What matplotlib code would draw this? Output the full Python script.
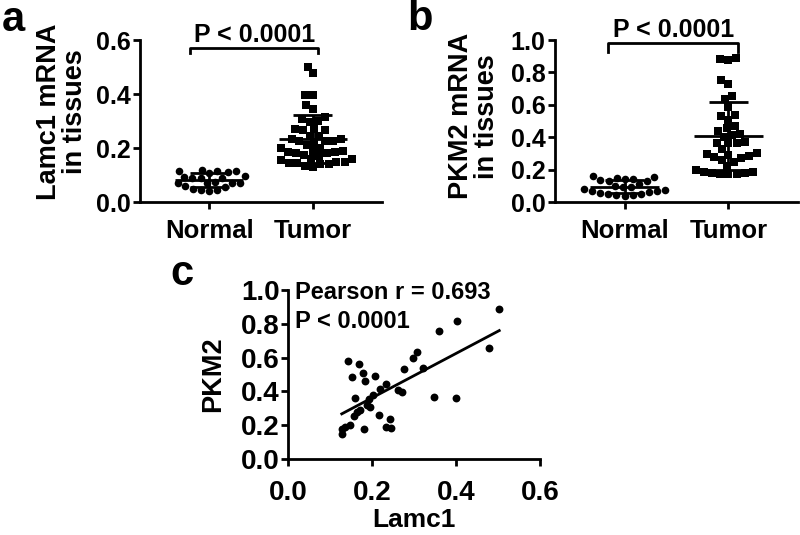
import numpy as np
import matplotlib
matplotlib.use("Agg")
import matplotlib.pyplot as plt
from matplotlib.ticker import FormatStrFormatter

plt.rcParams['font.family'] = ['Liberation Sans', 'DejaVu Sans']
plt.rcParams['font.weight'] = 'bold'
plt.rcParams['axes.labelweight'] = 'bold'

# panel a: Lamc1 mRNA in tissues
lamc1_normal = [0.12, 0.115, 0.115, 0.115, 0.11, 0.107, 0.095, 0.092, 0.09, 0.089, 0.089,
                0.075, 0.07, 0.072, 0.07, 0.069, 0.055, 0.045, 0.04, 0.043, 0.05, 0.06]
lamc1_tumor = [0.501, 0.477, 0.397, 0.397, 0.359, 0.344, 0.306, 0.316, 0.296, 0.27, 0.265,
               0.265, 0.27, 0.245, 0.235, 0.225, 0.225, 0.225, 0.235, 0.245, 0.2, 0.19,
               0.185, 0.18, 0.175, 0.18, 0.185, 0.19, 0.2, 0.16, 0.15, 0.145, 0.14, 0.135,
               0.14, 0.145, 0.15, 0.16, 0.3, 0.22, 0.21, 0.17, 0.155, 0.13]

# panel b: PKM2 mRNA in tissues
pkm2_normal = [0.16, 0.145, 0.135, 0.13, 0.13, 0.14, 0.15, 0.155, 0.11, 0.1, 0.095, 0.09,
               0.08, 0.075, 0.07, 0.065, 0.06, 0.055, 0.05, 0.05, 0.045, 0.04, 0.045]
pkm2_tumor = [0.883, 0.877, 0.889, 0.726, 0.753, 0.634, 0.656, 0.588, 0.531, 0.535, 0.506,
              0.469, 0.455, 0.44, 0.414, 0.403, 0.418, 0.362, 0.362, 0.372, 0.362, 0.325,
              0.29, 0.276, 0.259, 0.30, 0.27, 0.284, 0.294, 0.249, 0.187, 0.18, 0.175,
              0.17, 0.175, 0.18, 0.187, 0.197, 0.22]

groups = ['Normal', 'Tumor']

# panel c: correlation Lamc1 vs PKM2
corr_lamc1 = [0.503, 0.402, 0.360, 0.479, 0.306, 0.297, 0.321, 0.275, 0.144, 0.170, 0.179,
              0.207, 0.152, 0.183, 0.233, 0.219, 0.263, 0.271, 0.348, 0.399, 0.159, 0.203,
              0.194, 0.189, 0.171, 0.165, 0.156, 0.217, 0.243, 0.233, 0.245, 0.181, 0.148,
              0.136, 0.128, 0.129, 0.195]
corr_pkm2 = [0.886, 0.816, 0.757, 0.659, 0.635, 0.596, 0.541, 0.531, 0.581, 0.565, 0.510,
             0.494, 0.486, 0.459, 0.445, 0.416, 0.408, 0.394, 0.367, 0.361, 0.361, 0.381,
             0.357, 0.322, 0.292, 0.278, 0.253, 0.263, 0.237, 0.188, 0.184, 0.176, 0.200,
             0.188, 0.180, 0.149, 0.310]


def prism_style(ax):
    for s in ['top', 'right']:
        ax.spines[s].set_visible(False)
    for s in ['left', 'bottom']:
        ax.spines[s].set_linewidth(2)
    ax.tick_params(width=2, length=5, labelsize=18, colors='black')
    ax.yaxis.set_major_formatter(FormatStrFormatter('%.1f'))


def swarm_offsets(vals, xscale, yscale, d):
    # simple beeswarm in pixel space, returns x offsets in data units
    vals = np.asarray(vals)
    order = np.argsort(vals)
    placed = []
    offs = np.zeros(len(vals))
    for i in order:
        y = vals[i] * yscale
        cands = [0.0]
        for px, py in placed:
            dy = abs(py - y)
            if dy < d:
                dx = np.sqrt(d * d - dy * dy)
                cands += [px + dx, px - dx]
        cands.sort(key=lambda c: (abs(c), c))
        for c in cands:
            if all((c - px) ** 2 + (y - py) ** 2 >= d * d - 1e-6 for px, py in placed):
                break
        placed.append((c, y))
        offs[i] = c / xscale
    return offs


def dot_plot(ax, normal, tumor, ylim, yticks):
    ax.set_xlim(-0.67, 1.67)
    ax.set_ylim(*ylim)
    ax.set_yticks(yticks)
    ax.set_xticks([0, 1])
    ax.set_xticklabels(groups)
    prism_style(ax)
    ax.tick_params(axis='x', pad=7, labelsize=18.5)
    ax.tick_params(axis='y', pad=2)
    bb = ax.get_window_extent()
    xscale = bb.width / 2.34
    yscale = bb.height / (ylim[1] - ylim[0])
    d = 8.2
    for pos, vals, mk in [(0, normal, 'o'), (1, tumor, 's')]:
        offs = swarm_offsets(vals, xscale, yscale, d)
        ax.scatter(pos + offs, vals, marker=mk, s=30, color='black', linewidths=0, zorder=2)
        m = np.mean(vals)
        sd = np.std(vals, ddof=1)
        ax.hlines(m, pos - 0.33, pos + 0.33, color='black', lw=2, zorder=3)
        ax.vlines(pos, m - sd, m + sd, color='black', lw=2, zorder=3)
        ax.hlines([m - sd, m + sd], pos - 0.19, pos + 0.19, color='black', lw=2, zorder=3)


fig = plt.figure(figsize=(8, 5.35), dpi=100)
ax_a = fig.add_axes([140 / 800, 1 - 202 / 535, 242 / 800, 162 / 535])
ax_b = fig.add_axes([555 / 800, 1 - 202 / 535, 243 / 800, 162 / 535])
ax_c = fig.add_axes([288 / 800, 1 - 459 / 535, 252 / 800, 169 / 535])

dot_plot(ax_a, lamc1_normal, lamc1_tumor, (0, 0.6), [0, 0.2, 0.4, 0.6])
ax_a.set_ylabel('Lamc1 mRNA\nin tissues', fontsize=19.5, linespacing=1.0)
ax_a.yaxis.set_label_coords(-0.215, 0.56)
ax_a.plot([-0.19, -0.19, 1.05, 1.05], [0.552, 0.570, 0.570, 0.552], color='black', lw=2, clip_on=False)
ax_a.text(0.44, 0.593, 'P < 0.0001', ha='center', va='baseline', fontsize=18, clip_on=False)

dot_plot(ax_b, pkm2_normal, pkm2_tumor, (0, 1.0), [0, 0.2, 0.4, 0.6, 0.8, 1.0])
ax_b.set_ylabel('PKM2 mRNA\nin tissues', fontsize=19.5, linespacing=1.0)
ax_b.yaxis.set_label_coords(-0.226, 0.53)
ax_b.plot([-0.155, -0.155, 1.09, 1.09], [0.928, 0.98, 0.98, 0.928], color='black', lw=2, clip_on=False)
ax_b.text(0.476, 1.02, 'P < 0.0001', ha='center', va='baseline', fontsize=18, clip_on=False)

# panel c
ax_c.set_xlim(0, 0.6)
ax_c.set_ylim(0, 1.0)
ax_c.set_xticks([0, 0.2, 0.4, 0.6])
ax_c.set_yticks([0, 0.2, 0.4, 0.6, 0.8, 1.0])
prism_style(ax_c)
ax_c.xaxis.set_major_formatter(FormatStrFormatter('%.1f'))
ax_c.tick_params(axis='x', pad=10, labelsize=20)
ax_c.tick_params(axis='y', pad=1, labelsize=20)
ax_c.scatter(corr_lamc1, corr_pkm2, marker='o', s=32, color='black', linewidths=0, zorder=2)
k, b = np.polyfit(corr_lamc1, corr_pkm2, 1)
xf = np.array([min(corr_lamc1), max(corr_lamc1)])
ax_c.plot(xf, k * xf + b, color='black', lw=2)
ax_c.set_xlabel('Lamc1', fontsize=19)
ax_c.xaxis.set_label_coords(0.5, -0.29)
ax_c.xaxis.label.set_va('top')
ax_c.set_ylabel('PKM2', fontsize=19.5)
ax_c.yaxis.set_label_coords(-0.246, 0.5)
ax_c.text(0.017, 0.949, 'Pearson r = 0.693', ha='left', va='baseline', fontsize=17)
ax_c.text(0.017, 0.778, 'P < 0.0001', ha='left', va='baseline', fontsize=17)

fig.text(2 / 800, 1 - 31 / 535, 'a', fontsize=30, va='baseline', ha='left')
fig.text(407 / 800, 1 - 30 / 535, 'b', fontsize=30, va='baseline', ha='left')
fig.text(170 / 800, 1 - 285 / 535, 'c', fontsize=30, va='baseline', ha='left')

fig.savefig('out.png', dpi=100)
